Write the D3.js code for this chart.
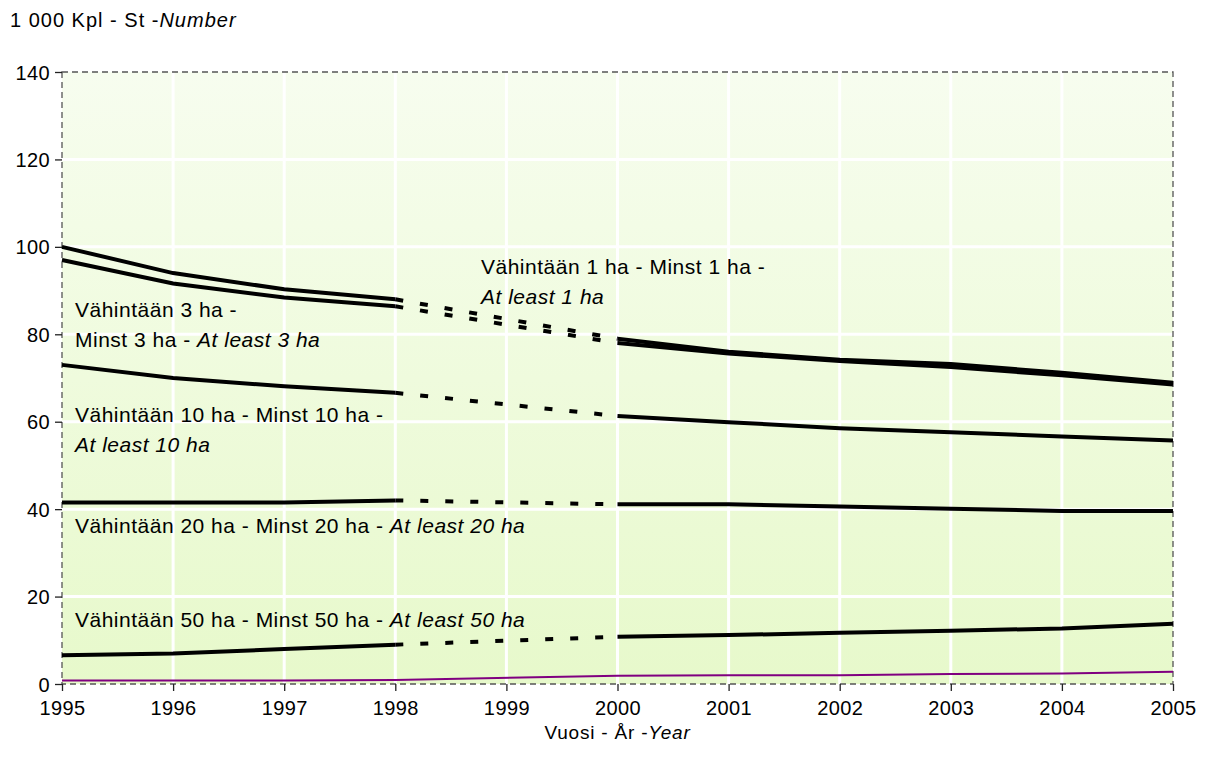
<!DOCTYPE html>
<html>
<head>
<meta charset="utf-8">
<script src="https://cdn.jsdelivr.net/npm/d3@7"></script>
<style>
  body { margin: 0; background: #fff; }
  text { font-family: "Liberation Sans", Arial, sans-serif; }
</style>
</head>
<body>
<div id="chart"></div>
<script>
// Categories (1999 has no survey value, the lines are bridged with dashes)
var years = ["1995", "1996", "1997", "1998", "1999", "2000", "2001", "2002", "2003", "2004", "2005"];
var yTicks = [0, 20, 40, 60, 80, 100, 120, 140];

// Series values, 1 000 farms
var atLeast1 = [100.0, 94.0, 90.3, 88.0, null, 79.0, 76.0, 74.2, 73.2, 71.2, 68.9];
var atLeast3 = [97.0, 91.6, 88.4, 86.4, null, 78.0, 75.6, 73.9, 72.5, 70.6, 68.5];
var atLeast10 = [73.0, 70.0, 68.1, 66.6, null, 61.3, 59.9, 58.5, 57.6, 56.6, 55.7];
var atLeast20 = [41.5, 41.5, 41.5, 42.0, null, 41.1, 41.1, 40.6, 40.1, 39.6, 39.6];
var atLeast50 = [6.6, 7.0, 8.0, 9.0, null, 10.8, 11.2, 11.7, 12.2, 12.7, 13.8];
var atLeast100 = [0.8, 0.8, 0.8, 0.9, null, 1.9, 2.0, 2.0, 2.3, 2.4, 2.8];

var blackSeries = [atLeast1, atLeast3, atLeast10, atLeast20, atLeast50];

// Label text, [regular part, italic part] per row
var labels = [
  {x: 481, y: 274, parts: [["Vähintään 1 ha - Minst 1 ha -", ""]]},
  {x: 481, y: 304, parts: [["", "At least 1 ha"]]},
  {x: 75, y: 317, parts: [["Vähintään 3 ha -", ""]]},
  {x: 75, y: 347, parts: [["Minst 3 ha - ", "At least 3 ha"]]},
  {x: 75, y: 422, parts: [["Vähintään 10 ha - Minst 10 ha -", ""]]},
  {x: 75, y: 452, parts: [["", "At least 10 ha"]]},
  {x: 75, y: 533, parts: [["Vähintään 20 ha - Minst 20 ha - ", "At least 20 ha"]]},
  {x: 75, y: 627, parts: [["Vähintään 50 ha - Minst 50 ha - ", "At least 50 ha"]]}
];

var width = 1207, height = 769;
var margin = {top: 72, right: 34, bottom: 85, left: 62};
var plotW = width - margin.left - margin.right,
    plotH = height - margin.top - margin.bottom;

var svg = d3.select("#chart").append("svg")
  .attr("width", width)
  .attr("height", height);

var defs = svg.append("defs");
var grad = defs.append("linearGradient")
  .attr("id", "bg")
  .attr("x1", 0).attr("y1", 0).attr("x2", 0).attr("y2", 1);
grad.append("stop").attr("offset", "0%").attr("stop-color", "#f7fdef");
grad.append("stop").attr("offset", "100%").attr("stop-color", "#e7f9cb");

var g = svg.append("g")
  .attr("transform", "translate(" + margin.left + "," + margin.top + ")");

var x = d3.scalePoint().domain(years).range([0, plotW]);
var y = d3.scaleLinear().domain([0, 140]).range([plotH, 0]);

// Plot background
g.append("rect")
  .attr("width", plotW)
  .attr("height", plotH)
  .attr("fill", "url(#bg)");

// White grid
g.selectAll(".vgrid").data(years.slice(1, -1)).enter()
  .append("line")
    .attr("x1", function(d) { return x(d); })
    .attr("x2", function(d) { return x(d); })
    .attr("y1", 0).attr("y2", plotH)
    .attr("stroke", "#fff").attr("stroke-width", 3);
g.selectAll(".hgrid").data(yTicks.slice(1, -1)).enter()
  .append("line")
    .attr("x1", 0).attr("x2", plotW)
    .attr("y1", function(d) { return y(d); })
    .attr("y2", function(d) { return y(d); })
    .attr("stroke", "#fff").attr("stroke-width", 3);

// Dashed frame
g.append("rect")
  .attr("width", plotW)
  .attr("height", plotH)
  .attr("fill", "none")
  .attr("stroke", "#555")
  .attr("stroke-width", 1.3)
  .attr("stroke-dasharray", "6,4");

// Axes
var yAxis = g.append("g")
  .call(d3.axisLeft(y).tickValues(yTicks).tickSize(7).tickPadding(5));
var xAxis = g.append("g")
  .attr("transform", "translate(0," + plotH + ")")
  .call(d3.axisBottom(x).tickSize(7).tickPadding(5));
[yAxis, xAxis].forEach(function(ax) {
  ax.select(".domain").remove();
  ax.selectAll(".tick line").attr("stroke", "#222").attr("stroke-width", 1.3);
  ax.selectAll(".tick text")
    .attr("fill", "#000")
    .style("font-size", "20px")
    .style("letter-spacing", "0.4px")
    .style("font-family", "Liberation Sans, Arial, sans-serif");
});
yAxis.selectAll(".tick text").attr("dy", "0.35em");
xAxis.selectAll(".tick text").attr("dy", "0.95em");

var line = d3.line()
  .x(function(d) { return x(d.year); })
  .y(function(d) { return y(d.value); });

function points(arr) {
  return years.map(function(yr, i) { return {year: yr, value: arr[i]}; })
    .filter(function(d) { return d.value !== null; });
}

// Black series: solid parts and a dashed bridge over 1999
blackSeries.forEach(function(arr) {
  var pts = points(arr);
  var before = pts.filter(function(d) { return +d.year <= 1998; });
  var after = pts.filter(function(d) { return +d.year >= 2000; });
  var bridge = [before[before.length - 1], after[0]];
  [before, after].forEach(function(part) {
    g.append("path")
      .attr("d", line(part))
      .attr("fill", "none")
      .attr("stroke", "#000")
      .attr("stroke-width", 4);
  });
  g.append("path")
    .attr("d", line(bridge))
    .attr("fill", "none")
    .attr("stroke", "#000")
    .attr("stroke-width", 4)
    .attr("stroke-dasharray", "8,17");
});

// Largest size class in purple, continuous
g.append("path")
  .attr("d", line(points(atLeast100)))
  .attr("fill", "none")
  .attr("stroke", "#800080")
  .attr("stroke-width", 2);

// Series labels
labels.forEach(function(l) {
  var t = svg.append("text")
    .attr("x", l.x).attr("y", l.y)
    .style("font-size", "21px")
    .style("letter-spacing", "0.5px")
    .attr("fill", "#000");
  l.parts.forEach(function(p) {
    if (p[0]) t.append("tspan").text(p[0]);
    if (p[1]) t.append("tspan").style("font-style", "italic").text(p[1]);
  });
});

// Axis titles
var yt = svg.append("text")
  .attr("x", 10).attr("y", 27)
  .style("font-size", "20px")
  .style("letter-spacing", "1px");
yt.append("tspan").text("1 000 Kpl - St -");
yt.append("tspan").style("font-style", "italic").text("Number");

var xt = svg.append("text")
  .attr("x", margin.left + plotW / 2).attr("y", 739)
  .attr("text-anchor", "middle")
  .style("font-size", "19px")
  .style("letter-spacing", "0.8px");
xt.append("tspan").text("Vuosi - År -");
xt.append("tspan").style("font-style", "italic").text("Year");
</script>
</body>
</html>
